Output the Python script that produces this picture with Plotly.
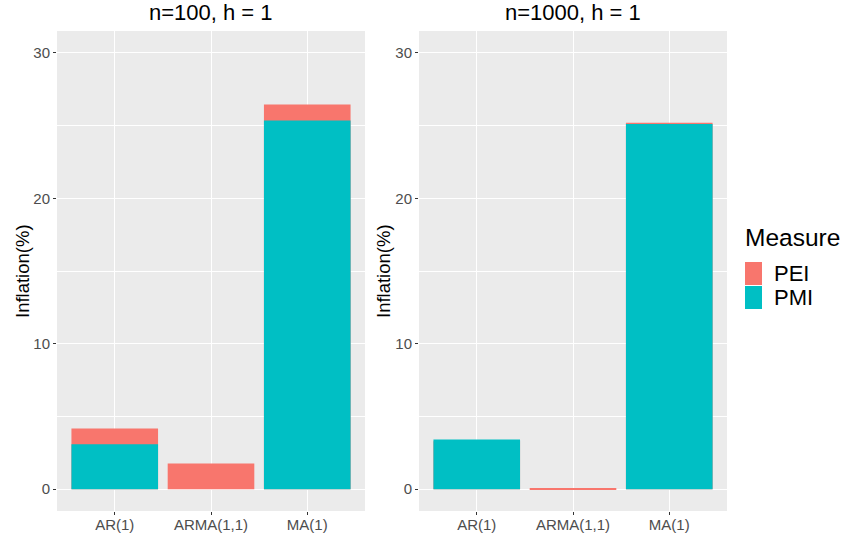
import plotly.graph_objects as go

categories = ["AR(1)", "ARMA(1,1)", "MA(1)"]
panel_titles = ["n=100, h = 1", "n=1000, h = 1"]
measures = ["PEI", "PMI"]
colors = {"PEI": "#F8766D", "PMI": "#00BFC4"}

# values per panel (n=100, n=1000)
pei_values = [[4.17, 1.77, 26.44], [3.30, 0.06, 25.20]]
pmi_values = [[3.09, 0.00, 25.34], [3.42, 0.00, 25.11]]
y_tick_vals = [0, 10, 20, 30]
y_tick_text = ["0", "10", "20", "30"]

W, H = 846, 535
FONT = "Liberation Sans, Arial, sans-serif"

def px_x(p):
    return p / W

def px_y(p):
    return 1 - p / H

panel_x = [(57, 365), (419, 727)]
panel_y = (31, 511)

fig = go.Figure()

for i in range(2):
    xa = "x" if i == 0 else "x2"
    ya = "y" if i == 0 else "y2"
    for m, vals in (("PEI", pei_values[i]), ("PMI", pmi_values[i])):
        fig.add_trace(go.Bar(
            x=categories, y=vals, name=m, marker=dict(color=colors[m], line=dict(width=0)),
            width=0.9, xaxis=xa, yaxis=ya, showlegend=False,
        ))

axis_common_x = dict(
    type="category", categoryorder="array", categoryarray=categories,
    range=[-0.6, 2.6], showgrid=True, gridcolor="white", gridwidth=1.1,
    ticks="outside", ticklen=3, tickcolor="#333333", tickwidth=1,
    ticklabelstandoff=-3,
    tickfont=dict(family=FONT, size=15, color="#4D4D4D"),
    showline=False, zeroline=False, fixedrange=True,
)
axis_common_y = dict(
    range=[-1.5, 31.5], tickvals=y_tick_vals, ticktext=y_tick_text,
    showgrid=True, gridcolor="white", gridwidth=1.1,
    minor=dict(showgrid=True, gridcolor="white", gridwidth=0.5, dtick=5, tick0=0, ticks=""),
    ticks="outside", ticklen=3, tickcolor="#333333", tickwidth=1,
    tickfont=dict(family=FONT, size=15, color="#4D4D4D"),
    showline=False, zeroline=False, fixedrange=True,
)

fig.update_layout(
    width=W, height=H,
    margin=dict(l=0, r=0, t=0, b=0),
    paper_bgcolor="white", plot_bgcolor="#EBEBEB",
    barmode="overlay", bargap=0.1,
    showlegend=False,
    xaxis=dict(domain=[px_x(panel_x[0][0]), px_x(panel_x[0][1])], anchor="y", **axis_common_x),
    yaxis=dict(domain=[px_y(panel_y[1]), px_y(panel_y[0])], anchor="x", **axis_common_y),
    xaxis2=dict(domain=[px_x(panel_x[1][0]), px_x(panel_x[1][1])], anchor="y2", **axis_common_x),
    yaxis2=dict(domain=[px_y(panel_y[1]), px_y(panel_y[0])], anchor="x2", **axis_common_y),
)

annotations = []
for i in range(2):
    cx = (panel_x[i][0] + panel_x[i][1]) / 2
    annotations.append(dict(
        text=panel_titles[i], x=px_x(cx), y=px_y(13), xref="paper", yref="paper",
        xanchor="center", yanchor="middle", showarrow=False,
        font=dict(family=FONT, size=22, color="black"),
    ))
    annotations.append(dict(
        text="Inflation(%)", x=px_x([22, 383][i]), y=px_y((panel_y[0] + panel_y[1]) / 2),
        xref="paper", yref="paper", xanchor="center", yanchor="middle",
        textangle=-90, showarrow=False,
        font=dict(family=FONT, size=18.5, color="black"),
    ))

# Legend (drawn manually to match ggplot keys)
annotations.append(dict(
    text="Measure", x=px_x(743), y=px_y(237), xref="paper", yref="paper",
    xanchor="left", yanchor="middle", showarrow=False,
    font=dict(family=FONT, size=24.5, color="black"),
))
shapes = []
key_tops = [262, 286]
for m, top in zip(measures, key_tops):
    shapes.append(dict(
        type="rect", xref="paper", yref="paper",
        x0=px_x(745), x1=px_x(762), y0=px_y(top + 23), y1=px_y(top),
        fillcolor=colors[m], line=dict(width=0),
    ))
    annotations.append(dict(
        text=m, x=px_x(773), y=px_y(top + 11.5), xref="paper", yref="paper",
        xanchor="left", yanchor="middle", showarrow=False, borderpad=0,
        font=dict(family=FONT, size=22, color="black"),
    ))

fig.update_layout(annotations=annotations, shapes=shapes)
fig.write_html("out.html")
